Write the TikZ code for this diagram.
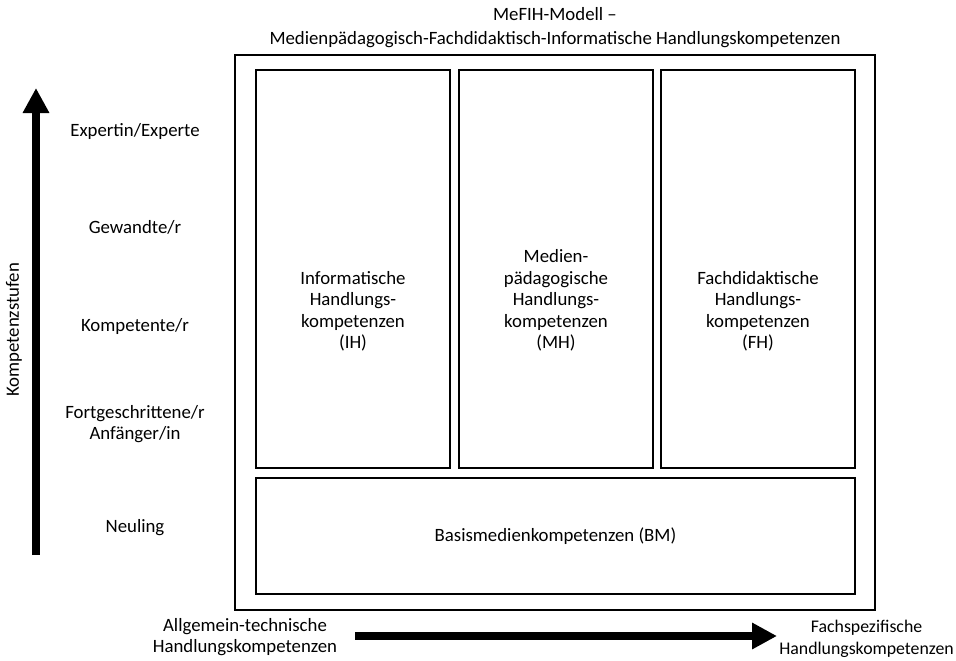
\documentclass[tikz,border=0pt]{standalone}
\usepackage{fontspec}
\setmainfont{Carlito}
\usetikzlibrary{shapes,arrows.meta,positioning}

\begin{document}
\begin{tikzpicture}[x=1pt,y=-1pt,font=\fontsize{18.8}{21.5}\selectfont]
    \tikzset{
        komp/.style={draw, rectangle, line width=2.8pt, inner sep=0pt},
        stufe/.style={align=center},
        fatarrow/.style={line width=8pt, -{Triangle[length=25pt,width=25pt]}}
    }
    \useasboundingbox (0,0) rectangle (956,661);

    \node[draw, rectangle, line width=2.4pt, minimum width=640pt, minimum height=555pt, inner sep=0pt] (frame) at (555,332.5) {};
    \node[above=3pt of frame, align=center, font=\fontsize{18.8}{24}\selectfont] (title) {MeFIH-Modell --\\ Medienpädagogisch-Fachdidaktisch-Informatische Handlungskompetenzen};

    \node[komp, minimum width=194pt, minimum height=398pt] (ih) at (353,269) {};
    \node[komp, minimum width=194pt, minimum height=398pt] (mh) at (556,269) {};
    \node[komp, minimum width=194pt, minimum height=398pt] (fh) at (758,269) {};
    \node[komp, minimum width=599pt, minimum height=116pt] (bm) at (555.5,536) {Basismedienkompetenzen (BM)};

    \node[align=center, anchor=south] (ihtext) at (353,355) {Informatische\\ Handlungs-\\ kompetenzen\\ (IH)};
    \node[align=center, anchor=south] (mhtext) at (556,355) {Medien-\\ pädagogische\\ Handlungs-\\ kompetenzen\\ (MH)};
    \node[align=center, anchor=south] (fhtext) at (758,355) {Fachdidaktische\\ Handlungs-\\ kompetenzen\\ (FH)};

    % Kompetenzstufen
    \node[stufe] (experte) at (135,131) {Expertin/Experte};
    \node[stufe] (gewandt) at (135,227) {Gewandte/r};
    \node[stufe] (kompetent) at (135,326) {Kompetente/r};
    \node[stufe] (fortgeschr) at (135,424) {Fortgeschrittene/r\\ Anfänger/in};
    \node[stufe] (neuling) at (135,528) {Neuling};
    \node[rotate=90] (stufen) at (14,330) {Kompetenzstufen};

    \coordinate (vstart) at (36,555);
    \coordinate (vend) at (36,88);
    \draw[fatarrow] (vstart) -- (vend);

    % Achse unten
    \node[align=center] (allg) at (245,637) {Allgemein-technische\\ Handlungskompetenzen};
    \node[align=center, anchor=east, inner sep=1pt, font=\fontsize{17.8}{21.5}\selectfont] (fach) at (955,639) {Fachspezifische\\ Handlungskompetenzen};
    \coordinate (hstart) at (355,636);
    \coordinate (hend) at (777,636);
    \draw[fatarrow] (hstart) -- (hend);
\end{tikzpicture}
\end{document}
